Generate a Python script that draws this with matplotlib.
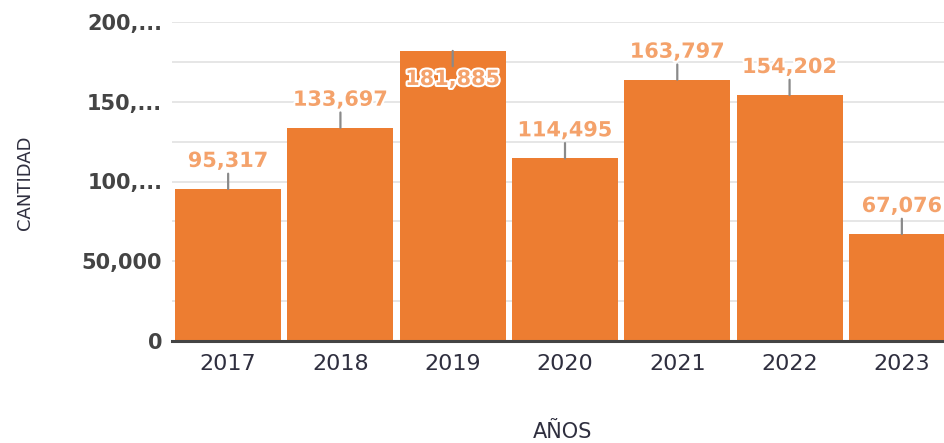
import matplotlib
matplotlib.use("Agg")
import matplotlib.pyplot as plt
import matplotlib.patheffects as pe
from matplotlib.ticker import MultipleLocator

years = ["2017", "2018", "2019", "2020", "2021", "2022", "2023"]
values = [95317, 133697, 181885, 114495, 163797, 154202, 67076]
ytick_vals = [0, 50000, 100000, 150000, 200000]
ytick_labels = ["0", "50,000", "100,...", "150,...", "200,..."]

W, H = 945, 443
fig = plt.figure(figsize=(W / 100, H / 100), dpi=100)
fig.patch.set_facecolor("white")

ax_left, ax_right = 172 / W, 958 / W
ax_bottom, ax_top = (H - 341) / H, (H - 22) / H
ax = fig.add_axes([ax_left, ax_bottom, ax_right - ax_left, ax_top - ax_bottom])

bar_color = "#ED7D31"
label_color = "#F4A26B"
text_color = "#444444"

x = list(range(len(years)))
ax.bar(x, values, width=0.945, color=bar_color, zorder=2)

ymax = 200000
ax.set_xlim(-0.5, len(years) - 0.5)
ax.set_ylim(0, ymax)

ax.set_yticks(ytick_vals)
ax.set_yticks([25000, 75000, 125000, 175000], minor=True)
ax.grid(axis="y", which="major", color="#e2e2e2", linewidth=1.2, zorder=0)
ax.grid(axis="y", which="minor", color="#e2e2e2", linewidth=1.2, zorder=0)
ax.set_yticklabels(ytick_labels, fontfamily="DejaVu Sans", fontweight="bold",
                   fontsize=15, color=text_color)
ax.tick_params(axis="y", which="both", length=0, pad=7)

ax.set_xticks(x)
ax.set_xticklabels(years, fontfamily="DejaVu Sans", fontsize=16, color="#2f2f3f")
ax.tick_params(axis="x", length=0, pad=9)

for s in ["top", "right", "left"]:
    ax.spines[s].set_visible(False)
ax.spines["bottom"].set_color(text_color)
ax.spines["bottom"].set_linewidth(2.2)
ax.spines["bottom"].set_zorder(3)

axis_h_px = (ax_top - ax_bottom) * H
for xi, v in zip(x, values):
    room_px = (ymax - v) / ymax * axis_h_px
    if room_px < 40:
        off, va, rel = -13, "top", (0.5, 1.0)
    else:
        off, va, rel = 13, "bottom", (0.5, 0.0)
    t = ax.annotate(f"{v:,}", xy=(xi, v), xytext=(0, off), textcoords="offset points",
                    ha="center", va=va, fontfamily="DejaVu Sans", fontweight="bold",
                    fontsize=15, color=label_color, zorder=5, annotation_clip=False,
                    arrowprops=dict(arrowstyle="-", color="#8a8a8a", lw=1.6,
                                    shrinkA=0, shrinkB=0, relpos=rel))
    t.set_path_effects([pe.withStroke(linewidth=3, foreground="white")])

fig.text(25 / W, 1 - 183 / H, "CANTIDAD", rotation=90, ha="center", va="center",
         fontfamily="DejaVu Sans", fontsize=13, color="#2f2f3f")
fig.text(563 / W, 1.5 / H, "AÑOS", ha="center", va="bottom",
         fontfamily="DejaVu Sans", fontsize=15, color="#2f2f3f")

fig.savefig("out.png", dpi=100)
